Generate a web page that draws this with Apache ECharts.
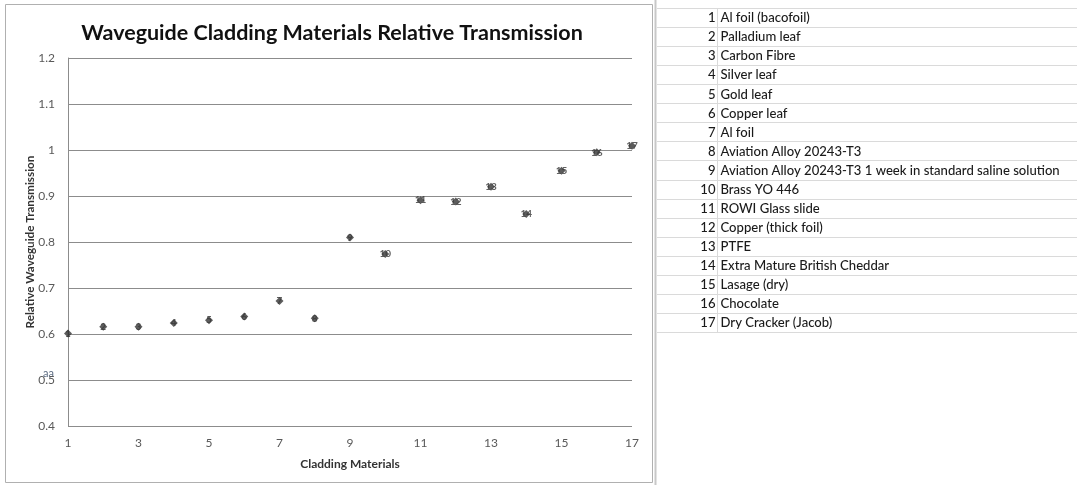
<!DOCTYPE html>
<html>
<head>
<meta charset="utf-8">
<script src="https://cdn.jsdelivr.net/npm/echarts@6/dist/echarts.min.js"></script>
<style>
html,body{margin:0;padding:0;background:#fff;}
#main{width:1077px;height:485px;}
</style>
</head>
<body>
<div id="main"></div>
<script>
// ---- data ----
var materialIds = [1,2,3,4,5,6,7,8,9,10,11,12,13,14,15,16,17];
var transmission = [0.601,0.616,0.616,0.624,0.630,0.638,0.672,0.634,0.810,0.774,0.891,0.888,0.920,0.861,0.955,0.995,1.009];
var materialNames = [
  "Al foil (bacofoil)",
  "Palladium leaf",
  "Carbon Fibre",
  "Silver leaf",
  "Gold leaf",
  "Copper leaf",
  "Al foil",
  "Aviation Alloy 20243-T3",
  "Aviation Alloy 20243-T3 1 week in standard saline solution",
  "Brass YO 446",
  "ROWI Glass slide",
  "Copper (thick foil)",
  "PTFE",
  "Extra Mature British Cheddar",
  "Lasage (dry)",
  "Chocolate",
  "Dry Cracker (Jacob)"
];
var titleText = "Waveguide Cladding Materials Relative Transmission";
var xAxisTitle = "Cladding Materials";
var yAxisTitle = "Relative Waveguide Transmission";

// ---- build ----
var FONT = "Lato";
var points = materialIds.map(function(id,i){ return [id, transmission[i]]; });

var graphics = [];
graphics.push({type:'rect', shape:{x:5.5,y:4.5,width:647,height:478}, style:{fill:null, stroke:'#b0b0b0', lineWidth:1}, z:-10});
graphics.push({type:'line', shape:{x1:655.5,y1:0,x2:655.5,y2:485}, style:{stroke:'#c8c8c8', lineWidth:2}, z:-10});
var tTop = 8, rowH = 19.06, tLeft = 657, tDiv = 717.5, tRight = 1077;
for (var r = 0; r <= materialNames.length; r++) {
  var yy = Math.round(tTop + r*rowH) + 0.5;
  graphics.push({type:'line', shape:{x1:tLeft,y1:yy,x2:tRight,y2:yy}, style:{stroke:'#dadada', lineWidth:1}});
}
graphics.push({type:'line', shape:{x1:tDiv,y1:tTop,x2:tDiv,y2:Math.round(tTop+materialNames.length*rowH)}, style:{stroke:'#dadada', lineWidth:1}});
materialNames.forEach(function(name,i){
  var cy = tTop + (i+0.5)*rowH + 0.5;
  graphics.push({type:'text', x:tDiv-2, y:cy, style:{text:String(materialIds[i]), font:'500 13.1px ' + FONT, fill:'#1a1a1a', textAlign:'right', textVerticalAlign:'middle'}});
  graphics.push({type:'text', x:tDiv+3, y:cy, style:{text:name, font:'500 13.1px ' + FONT, fill:'#1a1a1a', textAlign:'left', textVerticalAlign:'middle'}});
});
graphics.push({type:'text', x:43, y:373, style:{text:'aa', font:'11px ' + FONT, fill:'#5a6a80', textAlign:'left', textVerticalAlign:'middle'}});

var chart = echarts.init(document.getElementById('main'), null, {renderer:'canvas'});
chart.setOption({
  animation:false,
  backgroundColor:'#fff',
  title:{text:titleText, left:327, top:17, textAlign:'center',
    textStyle:{fontFamily:FONT, fontWeight:'bold', fontSize:21.5, color:'#111'}},
  grid:{left:68, right:445, top:58, bottom:59, containLabel:false},
  xAxis:{type:'value', min:1, max:17, interval:2,
    name:xAxisTitle, nameLocation:'middle', nameGap:32,
    nameTextStyle:{fontFamily:FONT, fontWeight:'bold', fontSize:12, color:'#333'},
    axisLine:{show:false}, axisTick:{show:false}, splitLine:{show:false},
    axisLabel:{fontFamily:FONT, fontSize:12, color:'#595959', margin:11}},
  yAxis:{type:'value', min:0.4, max:1.2, interval:0.1,
    name:yAxisTitle, nameLocation:'middle', nameGap:32, nameMoveOverlap:false,
    nameTextStyle:{fontFamily:FONT, fontWeight:'bold', fontSize:11.7, color:'#333'},
    axisLine:{show:true, lineStyle:{color:'#8c8c8c', width:1}}, axisTick:{show:false},
    splitLine:{show:true, lineStyle:{color:'#8c8c8c', width:1}},
    axisLabel:{fontFamily:FONT, fontSize:12, color:'#595959', margin:13,
      formatter:function(v){ return String(Math.round(v*10)/10); }}},
  series:[{type:'scatter', data:points, symbol:'diamond', symbolSize:8,
    itemStyle:{color:'#333'},
    label:{show:true, position:'inside', formatter:function(p){return String(p.value[0]);},
      fontFamily:FONT, fontSize:10, fontWeight:'bold', color:'#3a3a3a'}}],
  graphic:graphics
});
</script>
</body>
</html>
